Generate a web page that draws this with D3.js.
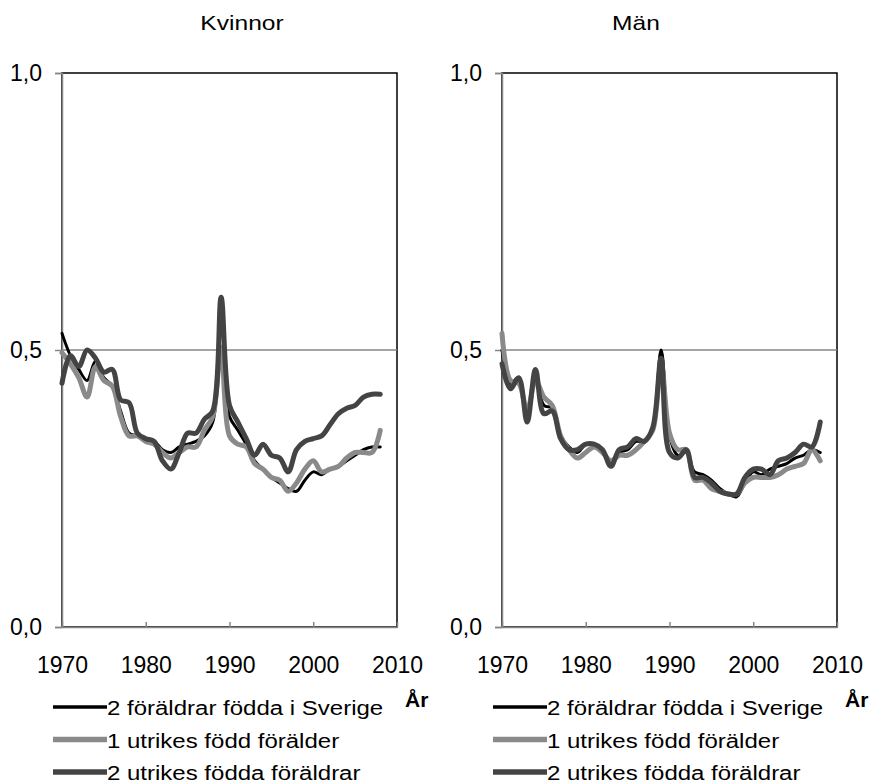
<!DOCTYPE html>
<html>
<head>
<meta charset="utf-8">
<script src="https://cdn.jsdelivr.net/npm/d3@7"></script>
<style>
  body { margin: 0; background: #fff; }
  svg { display: block; font-family: "Liberation Sans", Arial, sans-serif; }
</style>
</head>
<body>
<div id="chart"></div>
<script>
(function() {
    'use strict';

    // years 1970-2008
    const years = d3.range(1970, 2009);
    const seriesNames = ["2 föräldrar födda i Sverige", "1 utrikes född förälder", "2 utrikes födda föräldrar"];
    const panelTitles = ["Kvinnor", "Män"];
    const yTicks = [0, 0.5, 1];
    const xTicks = [1970, 1980, 1990, 2000, 2010];

    // Kvinnor
    const kvSverige = [0.53, 0.49, 0.465, 0.445, 0.48, 0.45, 0.435, 0.39, 0.35, 0.345,
        0.335, 0.335, 0.32, 0.315, 0.325, 0.33, 0.335, 0.345, 0.37, 0.50,
        0.38, 0.355, 0.33, 0.30, 0.285, 0.27, 0.26, 0.25, 0.245, 0.265,
        0.28, 0.275, 0.285, 0.29, 0.30, 0.31, 0.32, 0.325, 0.325];
    const kvEnUtrikes = [0.495, 0.475, 0.45, 0.415, 0.47, 0.445, 0.435, 0.38, 0.345, 0.345,
        0.335, 0.33, 0.315, 0.305, 0.315, 0.325, 0.325, 0.355, 0.38, 0.505,
        0.345, 0.33, 0.325, 0.295, 0.285, 0.27, 0.265, 0.245, 0.26, 0.285,
        0.30, 0.28, 0.285, 0.29, 0.305, 0.315, 0.315, 0.315, 0.355];
    const kvTvaUtrikes = [0.44, 0.49, 0.47, 0.50, 0.485, 0.46, 0.465, 0.41, 0.405, 0.35,
        0.34, 0.335, 0.30, 0.285, 0.315, 0.35, 0.35, 0.375, 0.39, 0.595,
        0.40, 0.37, 0.34, 0.31, 0.33, 0.31, 0.305, 0.28, 0.32, 0.335,
        0.34, 0.345, 0.365, 0.385, 0.395, 0.40, 0.415, 0.42, 0.42];

    // Män
    const manSverige = [0.50, 0.44, 0.45, 0.38, 0.455, 0.40, 0.395, 0.345, 0.325, 0.315,
        0.33, 0.33, 0.32, 0.295, 0.315, 0.32, 0.335, 0.335, 0.36, 0.50,
        0.345, 0.31, 0.315, 0.28, 0.275, 0.265, 0.25, 0.24, 0.235, 0.26,
        0.28, 0.275, 0.285, 0.29, 0.295, 0.305, 0.31, 0.32, 0.315];
    const manEnUtrikes = [0.53, 0.445, 0.44, 0.39, 0.445, 0.415, 0.40, 0.345, 0.32, 0.305,
        0.315, 0.325, 0.315, 0.30, 0.31, 0.31, 0.32, 0.335, 0.355, 0.475,
        0.35, 0.32, 0.32, 0.265, 0.265, 0.25, 0.245, 0.24, 0.24, 0.26,
        0.27, 0.27, 0.27, 0.275, 0.285, 0.29, 0.295, 0.32, 0.30];
    const manTvaUtrikes = [0.475, 0.43, 0.45, 0.37, 0.465, 0.385, 0.39, 0.34, 0.32, 0.32,
        0.33, 0.33, 0.32, 0.29, 0.32, 0.325, 0.34, 0.335, 0.36, 0.485,
        0.315, 0.305, 0.32, 0.27, 0.27, 0.26, 0.245, 0.24, 0.24, 0.27,
        0.285, 0.285, 0.275, 0.30, 0.305, 0.315, 0.33, 0.325, 0.37];

    const panelData = [
        [kvSverige, kvEnUtrikes, kvTvaUtrikes],
        [manSverige, manEnUtrikes, manTvaUtrikes]
    ];

    const colors = ["#000000", "#8a8a8a", "#444444"];
    const widths = [3, 5, 5];

    const W = 871, H = 784;
    const svg = d3.select("#chart").append("svg")
        .attr("width", W)
        .attr("height", H);

    const panelLeft = [62, 502];
    const plotW = 335;
    const plotTop = 73, plotBottom = 627;
    const titleX = [242, 636];

    // widen text glyphs a bit (the original's font is wider than Arial)
    function stretch(sel, k) {
        sel.each(function() {
            const len = this.getComputedTextLength();
            d3.select(this)
                .attr("textLength", len * k)
                .attr("lengthAdjust", "spacingAndGlyphs");
        });
    }

    function drawPanel(i) {
        const x0 = panelLeft[i];
        const x = d3.scaleLinear().domain([1970, 2010]).range([x0, x0 + plotW]);
        const y = d3.scaleLinear().domain([0, 1]).range([plotBottom, plotTop]);
        const g = svg.append("g");

        // title
        g.append("text")
            .attr("x", titleX[i])
            .attr("y", 30)
            .attr("text-anchor", "middle")
            .attr("font-size", 21)
            .attr("fill", "#000")
            .text(panelTitles[i])
            .call(stretch, 1.17);

        // plot border (top / right black)
        g.append("rect")
            .attr("x", x(1970))
            .attr("y", y(1))
            .attr("width", x(2010) - x(1970))
            .attr("height", y(0) - y(1))
            .attr("fill", "none")
            .attr("stroke", "#000")
            .attr("stroke-width", 1.5);

        // gridline at 0,5
        g.append("line")
            .attr("x1", x(1970)).attr("x2", x(2010))
            .attr("y1", y(0.5)).attr("y2", y(0.5))
            .attr("stroke", "#868686")
            .attr("stroke-width", 1.5);

        // axes
        const yAxis = g.append("g")
            .attr("transform", `translate(${x(1970)},0)`)
            .call(d3.axisLeft(y).tickValues(yTicks)
                .tickFormat(d => d3.format(".1f")(d).replace(".", ","))
                .tickSize(7).tickPadding(13));
        const xAxis = g.append("g")
            .attr("transform", `translate(0,${y(0)})`)
            .call(d3.axisBottom(x).tickValues(xTicks)
                .tickFormat(d3.format("d"))
                .tickSizeInner(-5).tickSizeOuter(0).tickPadding(30));
        [yAxis, xAxis].forEach(a => {
            a.select(".domain").attr("stroke", "#868686").attr("stroke-width", 1.5);
            a.selectAll(".tick line").attr("stroke", "#868686").attr("stroke-width", 1.5);
            a.selectAll("text").attr("font-size", 23).attr("fill", "#000")
                .attr("font-family", "Liberation Sans, Arial, sans-serif");
        });

        // lines
        const line = d3.line()
            .x((d, j) => x(years[j]))
            .y(d => y(d))
            .curve(d3.curveCatmullRom.alpha(0.5));
        panelData[i].forEach((vals, s) => {
            g.append("path")
                .datum(vals)
                .attr("d", line)
                .attr("fill", "none")
                .attr("stroke", colors[s])
                .attr("stroke-width", widths[s])
                .attr("stroke-linejoin", "round")
                .attr("stroke-linecap", "round");
        });

        // axis title
        g.append("text")
            .attr("x", x(2010) + 8)
            .attr("y", 707)
            .attr("font-size", 21)
            .attr("font-weight", "bold")
            .attr("fill", "#000")
            .text("År");

        // legend
        const leg = g.append("g").attr("transform", `translate(${x0 - 9},707)`);
        seriesNames.forEach((name, s) => {
            const row = leg.append("g").attr("transform", `translate(0,${s * 32.5})`);
            row.append("line")
                .attr("x1", 0).attr("x2", 54)
                .attr("stroke", colors[s])
                .attr("stroke-width", widths[s] + 0.5);
            row.append("text")
                .attr("x", 54)
                .attr("y", 8)
                .attr("font-size", 20)
                .attr("fill", "#000")
                .text(name)
                .call(stretch, 1.2);
        });
    }

    drawPanel(0);
    drawPanel(1);
})();
</script>
</body>
</html>
